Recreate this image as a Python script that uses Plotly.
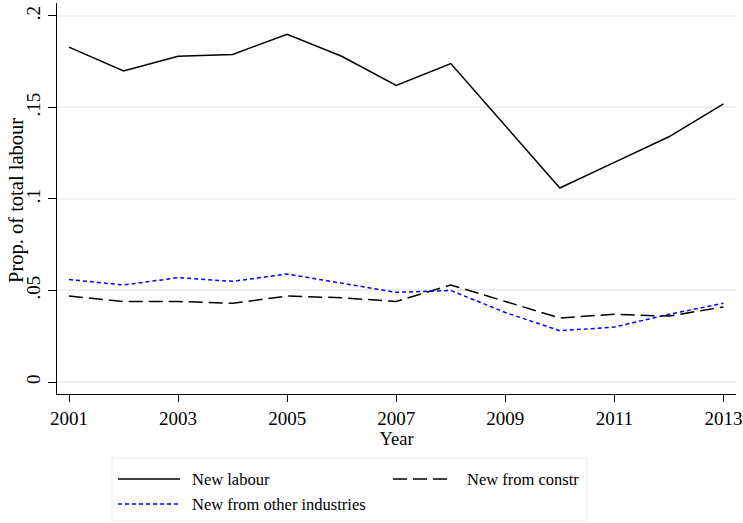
import plotly.graph_objects as go

years = list(range(2001, 2014))
new_labour = [0.183, 0.170, 0.178, 0.179, 0.190, 0.178, 0.162, 0.174, 0.140, 0.106, 0.120, 0.134, 0.152]
new_constr = [0.047, 0.044, 0.044, 0.043, 0.047, 0.046, 0.044, 0.053, 0.044, 0.035, 0.037, 0.036, 0.041]
new_other = [0.056, 0.053, 0.057, 0.055, 0.059, 0.054, 0.049, 0.050, 0.038, 0.028, 0.030, 0.037, 0.043]

series_names = ["New labour", "New from constr", "New from other industries"]
y_tickvals = [0, 0.05, 0.1, 0.15, 0.2]
y_ticktext = ["0", ".05", ".1", ".15", ".2"]
x_tickvals = [2001, 2003, 2005, 2007, 2009, 2011, 2013]
y_title = "Prop. of total labour"

FONT = "Liberation Serif"
W, H = 743, 523
ML, MR, MT, MB = 57, 7, 3, 129
PW, PH = W - ML - MR, H - MT - MB

styles = [
    dict(color="black", width=1.5),
    dict(color="black", width=1.5, dash="14px,6px"),
    dict(color="blue", width=1.5, dash="4px,3px"),
]

fig = go.Figure()
for name, vals, st in zip(series_names, [new_labour, new_constr, new_other], styles):
    fig.add_trace(go.Scatter(x=years, y=vals, mode="lines", name=name, line=st,
                             showlegend=False))


def px_x(px):
    return (px - ML) / PW


def px_y(py):
    return (H - MB - py) / PH


shapes = []
annotations = []
# legend box
shapes.append(dict(type="rect", xref="paper", yref="paper",
                   x0=px_x(112), x1=px_x(587), y0=px_y(521), y1=px_y(458),
                   line=dict(color="#e3ecef", width=1), fillcolor="white", layer="above"))
legend_pos = [(118, 180, 479, 190), (393, 453, 479, 465), (118, 180, 504, 190)]
for name, st, (lx0, lx1, ly, tx) in zip(series_names, styles, legend_pos):
    shapes.append(dict(type="line", xref="paper", yref="paper",
                       x0=px_x(lx0), x1=px_x(lx1), y0=px_y(ly), y1=px_y(ly),
                       line=st, layer="above"))
    annotations.append(dict(text=name, xref="paper", yref="paper",
                            x=px_x(tx), y=px_y(ly), xanchor="left", yanchor="middle",
                            showarrow=False, font=dict(family=FONT, size=16.5, color="black")))

# y-axis title
annotations.append(dict(text=y_title, xref="paper", yref="paper",
                        x=px_x(16), y=px_y(201), xanchor="center", yanchor="middle",
                        textangle=-90, showarrow=False,
                        font=dict(family=FONT, size=20.5, color="black")))

fig.update_layout(
    width=W, height=H,
    margin=dict(l=ML, r=MR, t=MT, b=MB),
    paper_bgcolor="white", plot_bgcolor="white",
    font=dict(family=FONT, size=18, color="black"),
    showlegend=False,
    shapes=shapes,
    annotations=annotations,
    xaxis=dict(
        range=[2000.78, 2013.23],
        tickvals=x_tickvals,
        ticks="outside", ticklen=7, tickwidth=1, tickcolor="black",
        showline=True, linecolor="black", linewidth=1,
        showgrid=False, zeroline=False, automargin=False,
        title=dict(text="Year", standoff=1, font=dict(size=18.5)),
        tickfont=dict(size=19),
    ),
    yaxis=dict(
        range=[-0.00656, 0.2071],
        tickvals=y_tickvals, ticktext=y_ticktext,
        tickangle=-90,
        ticks="outside", ticklen=8, tickwidth=1, tickcolor="black",
        showline=True, linecolor="black", linewidth=1,
        showgrid=True, gridcolor="#eaf1f3", gridwidth=1.5,
        zeroline=False, automargin=False,
        tickfont=dict(size=19),
    ),
)

fig.write_html("out.html")
